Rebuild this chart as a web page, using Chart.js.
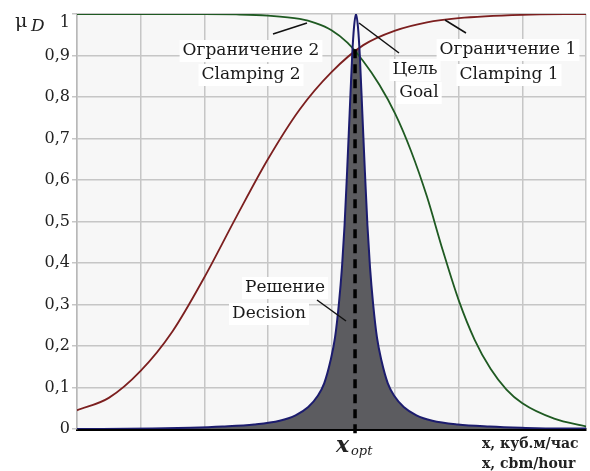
<!DOCTYPE html>
<html><head><meta charset="utf-8">
<script src="https://cdn.jsdelivr.net/npm/chart.js@4/dist/chart.umd.min.js"></script>
<style>html,body{margin:0;padding:0;background:#fff;}#wrap{width:590px;height:471px;}</style>
</head><body><div id="wrap"><canvas id="c" width="590" height="471"></canvas></div>
<script>
// Clamping 1 (red, increasing)
const clamp1X = [0, 0.5, 1, 1.5, 2, 2.5, 3, 3.5, 4, 4.5, 5, 5.5, 6, 7, 8];
const clamp1Y = [0.045, 0.075, 0.14, 0.235, 0.365, 0.51, 0.65, 0.77, 0.86, 0.925, 0.96, 0.98, 0.99, 0.998, 1.0];
// Clamping 2 (green, decreasing)
const clamp2X = [0, 1, 2, 2.5, 3, 3.5, 3.75, 4, 4.25, 4.5, 4.75, 5, 5.25, 5.5, 5.75, 6, 6.25, 6.5, 6.75, 7, 7.5, 8];
const clamp2Y = [1, 1, 1, 0.999, 0.996, 0.988, 0.978, 0.961, 0.931, 0.886, 0.83, 0.76, 0.67, 0.56, 0.43, 0.31, 0.215, 0.145, 0.095, 0.062, 0.025, 0.006];
// Goal (navy spike)
const goalX = [0, 1.185, 1.785, 2.285, 2.785, 3.185, 3.435, 3.635, 3.785, 3.885, 3.985, 4.055, 4.115, 4.165, 4.205, 4.245, 4.285, 4.325, 4.355, 4.385,
               4.415, 4.445, 4.485, 4.525, 4.565, 4.605, 4.655, 4.715, 4.785, 4.885, 4.985, 5.135, 5.335, 5.585, 5.985, 6.485, 6.985, 7.585, 8];
const goalY = [0, 0.001, 0.003, 0.006, 0.011, 0.02, 0.033, 0.053, 0.08, 0.11, 0.165, 0.22, 0.3, 0.39, 0.49, 0.62, 0.76, 0.9, 0.97, 1.0,
               0.97, 0.9, 0.76, 0.62, 0.49, 0.39, 0.3, 0.22, 0.165, 0.11, 0.08, 0.053, 0.033, 0.02, 0.011, 0.006, 0.003, 0.001, 0.001];
// Decision (gray filled area, goal capped where the constraints cross)
const decisionX = [0, 1.185, 1.785, 2.285, 2.785, 3.185, 3.435, 3.635, 3.785, 3.885, 3.985, 4.055, 4.115, 4.165, 4.205, 4.245, 4.285, 4.33,
                   4.44, 4.485, 4.525, 4.565, 4.605, 4.655, 4.715, 4.785, 4.885, 4.985, 5.135, 5.335, 5.585, 5.985, 6.485, 6.985, 7.585, 8];
const decisionY = [0, 0.001, 0.003, 0.006, 0.011, 0.02, 0.033, 0.053, 0.08, 0.11, 0.165, 0.22, 0.3, 0.39, 0.49, 0.62, 0.76, 0.915,
                   0.915, 0.76, 0.62, 0.49, 0.39, 0.3, 0.22, 0.165, 0.11, 0.08, 0.053, 0.033, 0.02, 0.011, 0.006, 0.003, 0.001, 0.001];
// Optimum
const xOpt = 4.37;
const xOptLineY = [0.915, -0.015];
const yTicks = [0, 0.1, 0.2, 0.3, 0.4, 0.5, 0.6, 0.7, 0.8, 0.9, 1];

const pts = (xs, ys) => xs.map((x, i) => ({x, y: ys[i]}));

const SERIF = '"DejaVu Serif", "Liberation Serif", serif';

const bgPlugin = {
  id: 'bg',
  beforeDraw(chart) {
    const {ctx, chartArea: a} = chart;
    ctx.save();
    ctx.fillStyle = '#ffffff';
    ctx.fillRect(0, 0, chart.width, chart.height);
    ctx.fillStyle = '#f7f7f7';
    ctx.fillRect(a.left, a.top, a.right - a.left, a.bottom - a.top);
    ctx.restore();
  }
};

function boxText(ctx, text, cx, cy, font) {
  ctx.font = font;
  const w = ctx.measureText(text).width;
  ctx.fillStyle = '#ffffff';
  ctx.fillRect(cx - w / 2 - 3, cy - 11, w + 6, 22);
  ctx.fillStyle = '#1a1a1a';
  ctx.textAlign = 'center';
  ctx.textBaseline = 'middle';
  ctx.fillText(text, cx, cy);
}
function leader(ctx, x1, y1, x2, y2) {
  ctx.beginPath();
  ctx.moveTo(x1, y1);
  ctx.lineTo(x2, y2);
  ctx.strokeStyle = '#111';
  ctx.lineWidth = 1.5;
  ctx.stroke();
}

const annPlugin = {
  id: 'ann',
  afterDraw(chart) {
    const ctx = chart.ctx;
    const ys = chart.scales.y;
    const xs = chart.scales.x;
    ctx.save();
    const f = '17px ' + SERIF;
    boxText(ctx, 'Ограничение 2', 251, 51, f);
    boxText(ctx, 'Clamping 2', 251, 75, f);
    boxText(ctx, 'Ограничение 1', 508, 50, f);
    boxText(ctx, 'Clamping 1', 509, 75, f);
    boxText(ctx, 'Цель', 415, 70, f);
    boxText(ctx, 'Goal', 419, 93, f);
    boxText(ctx, 'Решение', 285, 288, f);
    boxText(ctx, 'Decision', 269, 314, f);
    leader(ctx, 273, 34, 307, 23);
    leader(ctx, 445, 20, 466, 33);
    leader(ctx, 359, 23, 399, 53);
    leader(ctx, 317, 300, 346, 321);

    // y-axis top label "1" and mu_D
    ctx.fillStyle = '#222';
    ctx.textBaseline = 'alphabetic';
    ctx.textAlign = 'right';
    ctx.font = '16px ' + SERIF;
    ctx.fillText('1', 70, ys.getPixelForValue(1) + 13);
    ctx.textAlign = 'left';
    ctx.font = '19px ' + SERIF;
    ctx.fillText('μ', 15, 27);
    ctx.font = 'italic 17px ' + SERIF;
    ctx.fillText('D', 31, 31);

    // x_opt label
    const px = xs.getPixelForValue(xOpt);
    ctx.font = 'bold italic 22px ' + SERIF;
    ctx.textAlign = 'left';
    ctx.fillText('x', px - 19, 452);
    ctx.font = 'italic 13px ' + SERIF;
    ctx.fillText('opt', px - 4, 455);

    // x axis unit labels
    ctx.font = 'bold 14px ' + SERIF;
    ctx.fillText('x, куб.м/час', 482, 448);
    ctx.fillText('x, cbm/hour', 482, 468);
    ctx.restore();
  }
};

new Chart(document.getElementById('c'), {
  type: 'scatter',
  data: {
    datasets: [
      {
        label: 'xopt',
        data: xOptLineY.map(y => ({x: xOpt, y})),
        showLine: true,
        borderColor: '#000',
        borderWidth: 3.5,
        borderDash: [9, 6],
        pointRadius: 0,
        clip: false
      },
      {
        label: 'Goal',
        data: pts(goalX, goalY),
        showLine: true,
        borderColor: '#1c1c6e',
        borderWidth: 2,
        pointRadius: 0,
        cubicInterpolationMode: 'monotone'
      },
      {
        label: 'Clamping 1',
        data: pts(clamp1X, clamp1Y),
        showLine: true,
        borderColor: '#7c1f1f',
        borderWidth: 1.8,
        pointRadius: 0,
        cubicInterpolationMode: 'monotone'
      },
      {
        label: 'Clamping 2',
        data: pts(clamp2X, clamp2Y),
        showLine: true,
        borderColor: '#1f5a22',
        borderWidth: 1.8,
        pointRadius: 0,
        cubicInterpolationMode: 'monotone'
      },
      {
        label: 'Decision',
        data: pts(decisionX, decisionY),
        showLine: true,
        borderWidth: 0,
        borderColor: 'rgba(0,0,0,0)',
        backgroundColor: '#5c5c60',
        fill: 'origin',
        pointRadius: 0,
        cubicInterpolationMode: 'monotone'
      }
    ]
  },
  options: {
    responsive: false,
    animation: false,
    devicePixelRatio: 1,
    layout: {padding: {left: 0, right: 4, top: 14, bottom: 0}},
    plugins: {legend: {display: false}, tooltip: {enabled: false}},
    scales: {
      x: {
        type: 'linear',
        min: 0, max: 8,
        ticks: {display: false, stepSize: 1},
        grid: {color: '#c6c6c6', lineWidth: 1.5, drawTicks: false},
        border: {display: true, color: '#000', width: 3},
        afterFit(s) { s.height = 42; }
      },
      y: {
        min: 0, max: 1,
        afterBuildTicks(s) { s.ticks = yTicks.map(v => ({value: v})); },
        ticks: {
          padding: 2,
          color: '#222',
          font: {family: SERIF, size: 16},
          callback: v => (v === 1 ? '' : String(Math.round(v * 10) / 10).replace('.', ','))
        },
        grid: {color: '#c6c6c6', lineWidth: 1.5, tickLength: 5},
        border: {display: true, color: '#b8b8b8', width: 1.5},
        afterFit(s) { s.width = 77; }
      }
    }
  },
  plugins: [bgPlugin, annPlugin]
});
</script>
</body></html>
